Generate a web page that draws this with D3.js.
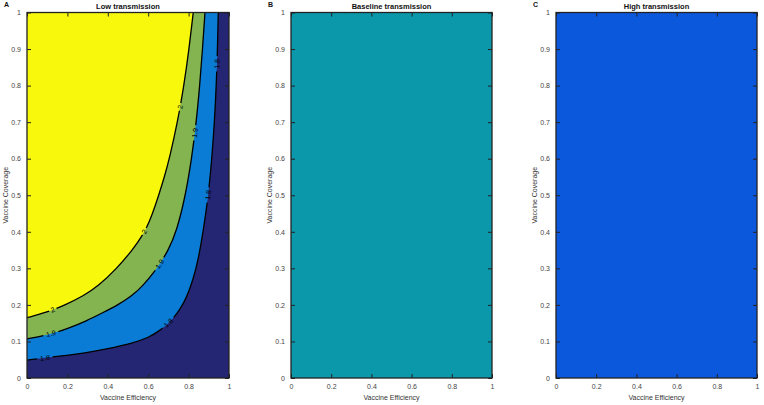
<!DOCTYPE html>
<html><head><meta charset="utf-8">
<script src="https://cdn.jsdelivr.net/npm/d3@7/dist/d3.min.js"></script>
<style>
body{margin:0;background:#fff}
text{font-family:"Liberation Sans",Arial,Helvetica,sans-serif}
</style></head>
<body><svg id="chart" width="764" height="405"></svg>
<script>
// ---- data ----
const panelLetters = ["A", "B", "C"];
const panelTitles = ["Low transmission", "Baseline transmission", "High transmission"];
const xTicks = [0, 0.2, 0.4, 0.6, 0.8, 1];
const yTicks = [0, 0.1, 0.2, 0.3, 0.4, 0.5, 0.6, 0.7, 0.8, 0.9, 1];
const xLabel = "Vaccine Efficiency";
const yLabel = "Vaccine Coverage";

// contour levels in panel A and their lines as [efficiency, coverage]
const levels = [1.8, 1.9, 2];
const contour18 = [[0,0.049],[0.1,0.056],[0.2,0.062],[0.28,0.068],[0.4,0.08],[0.52,0.095],[0.6,0.11],[0.66,0.13],[0.72,0.16],[0.76,0.19],[0.79,0.22],[0.823,0.27],[0.85,0.33],[0.872,0.4],[0.898,0.5],[0.915,0.6],[0.928,0.7],[0.937,0.8],[0.943,0.9],[0.947,1]];
const contour19 = [[0,0.107],[0.12,0.12],[0.2,0.135],[0.29,0.155],[0.38,0.18],[0.45,0.2],[0.52,0.225],[0.57,0.25],[0.645,0.3],[0.70,0.35],[0.74,0.4],[0.785,0.5],[0.815,0.6],[0.838,0.7],[0.855,0.8],[0.869,0.9],[0.881,1]];
const contour2  = [[0,0.165],[0.1,0.18],[0.19,0.2],[0.28,0.225],[0.35,0.25],[0.445,0.3],[0.522,0.35],[0.585,0.4],[0.622,0.45],[0.652,0.5],[0.68,0.55],[0.705,0.6],[0.745,0.7],[0.777,0.8],[0.802,0.9],[0.823,1]];
const contours = [contour18, contour19, contour2];
// contour label anchor points [efficiency, coverage]
const labels18 = [[0.09,0.053],[0.70,0.15],[0.90,0.50],[0.94,0.86]];
const labels19 = [[0.12,0.12],[0.66,0.31],[0.835,0.67]];
const labels2  = [[0.13,0.185],[0.585,0.40],[0.77,0.74]];
const contourLabels = [labels18, labels19, labels2];

// colours
const belowColor = "#252673";                 // < 1.8
const levelColors = ["#0A7CD5", "#83B44F", "#F7F80C"]; // >=1.8, >=1.9, >=2
const panelFill = [null, "#0A98AA", "#0C58DD"];

// ---- layout ----
const panelX = [[27, 229], [291, 492], [556, 757]];
const yRange = [378, 12.5];

const svg = d3.select("#chart");

panelX.forEach((px, i) => {
  const x = d3.scaleLinear([0, 1], px);
  const y = d3.scaleLinear([0, 1], yRange);
  const g = svg.append("g");

  if (i === 0) {
    g.append("rect").attr("x", px[0]).attr("y", yRange[1])
      .attr("width", px[1] - px[0]).attr("height", yRange[0] - yRange[1])
      .attr("fill", belowColor);
    const line = d3.line().x(d => x(d[0])).y(d => y(d[1])).curve(d3.curveBasis);
    contours.forEach((pts, k) => {
      g.append("path")
        .attr("d", line(pts) + "L" + x(0) + "," + y(1) + "Z")
        .attr("fill", levelColors[k]);
    });
    contours.forEach((pts, k) => {
      const path = g.append("path").attr("d", line(pts))
        .attr("fill", "none").attr("stroke", "#000").attr("stroke-width", 1.3);
      const node = path.node();
      const L = node.getTotalLength();
      const samples = d3.range(0, L, 0.5).map(s => { const p = node.getPointAtLength(s); return [s, p.x, p.y]; });
      const txt = String(levels[k]);
      const w = txt.length * 3.8 + 4;
      const gaps = [];
      contourLabels[k].forEach(lp => {
        const tx = x(lp[0]), ty = y(lp[1]);
        const best = d3.least(samples, d => (d[1] - tx) ** 2 + (d[2] - ty) ** 2);
        const s = best[0];
        const p1 = node.getPointAtLength(Math.max(0, s - 3));
        const p2 = node.getPointAtLength(Math.min(L, s + 3));
        let ang = Math.atan2(p2.y - p1.y, p2.x - p1.x) * 180 / Math.PI;
        if (ang > 90) ang -= 180;
        if (ang < -90) ang += 180;
        gaps.push([Math.max(0, s - w / 2), Math.min(L, s + w / 2)]);
        g.append("text").attr("transform", `translate(${best[1]},${best[2]}) rotate(${ang})`)
          .attr("text-anchor", "middle").attr("dy", "0.35em")
          .attr("font-size", 7).attr("fill", "#000").text(txt);
      });
      gaps.sort((a, b) => a[0] - b[0]);
      const dash = [];
      let pos = 0;
      gaps.forEach(gp => { dash.push(gp[0] - pos, gp[1] - gp[0]); pos = gp[1]; });
      dash.push(L - pos + 5, 0);
      path.attr("stroke-dasharray", dash.join(","));
    });
  } else {
    g.append("rect").attr("x", px[0]).attr("y", yRange[1])
      .attr("width", px[1] - px[0]).attr("height", yRange[0] - yRange[1])
      .attr("fill", panelFill[i]);
  }

  // axes (ticks inward, MATLAB style)
  const fmt = d => String(d);
  const axB = g.append("g").attr("transform", `translate(0,${yRange[0]})`)
    .call(d3.axisBottom(x).tickValues(xTicks).tickFormat(fmt).tickSize(-4).tickPadding(6));
  const axL = g.append("g").attr("transform", `translate(${px[0]},0)`)
    .call(d3.axisLeft(y).tickValues(yTicks).tickFormat(fmt).tickSize(-4).tickPadding(6));
  const axT = g.append("g").attr("transform", `translate(0,${yRange[1]})`)
    .call(d3.axisTop(x).tickValues(xTicks).tickFormat("").tickSize(-4));
  const axR = g.append("g").attr("transform", `translate(${px[1]},0)`)
    .call(d3.axisRight(y).tickValues(yTicks).tickFormat("").tickSize(-4));
  [axB, axL, axT, axR].forEach(a => {
    a.select(".domain").remove();
    a.selectAll(".tick line").attr("stroke", "#222").attr("stroke-width", 1);
    a.selectAll("text").attr("font-size", 7).attr("fill", "#444").attr("font-family", '"Liberation Sans",Arial,sans-serif');
  });
  g.append("rect").attr("x", px[0]).attr("y", yRange[1])
    .attr("width", px[1] - px[0]).attr("height", yRange[0] - yRange[1])
    .attr("fill", "none").attr("stroke", "#222").attr("stroke-width", 1.3);

  // titles & labels
  g.append("text").attr("x", (px[0] + px[1]) / 2).attr("y", 8.5)
    .attr("text-anchor", "middle").attr("font-size", 7.5).attr("font-weight", "bold")
    .attr("fill", "#111").text(panelTitles[i]);
  g.append("text").attr("x", px[0] - 23).attr("y", 7)
    .attr("font-size", 7).attr("font-weight", "bold").attr("fill", "#111").text(panelLetters[i]);
  g.append("text").attr("x", (px[0] + px[1]) / 2).attr("y", 400)
    .attr("text-anchor", "middle").attr("font-size", 7).attr("fill", "#333").text(xLabel);
  g.append("text").attr("transform", `translate(${px[0] - 19},${(yRange[0] + yRange[1]) / 2}) rotate(-90)`)
    .attr("text-anchor", "middle").attr("font-size", 7).attr("fill", "#333").text(yLabel);
});
</script></body></html>
